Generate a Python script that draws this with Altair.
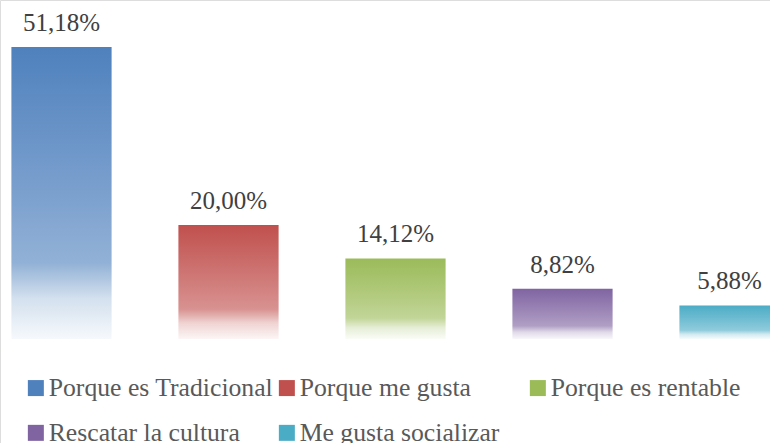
import altair as alt
import pandas as pd

categories = ["Porque es Tradicional", "Porque me gusta", "Porque es rentable",
              "Rescatar la cultura", "Me gusta socializar"]
values = [51.18, 20.00, 14.12, 8.82, 5.88]
labels = ["51,18%", "20,00%", "14,12%", "8,82%", "5,88%"]
colors = ["#4F81BD", "#C0504D", "#9BBB59", "#8064A2", "#4BACC6"]

df = pd.DataFrame({"cat": categories, "val": values, "label": labels})


def tint(c, t):
    r, g, b = int(c[1:3], 16), int(c[3:5], 16), int(c[5:7], 16)
    r = round(r + (255 - r) * t)
    g = round(g + (255 - g) * t)
    b = round(b + (255 - b) * t)
    return "#{:02x}{:02x}{:02x}".format(r, g, b)


def grad(c):
    return alt.Gradient(
        gradient="linear", x1=0, x2=0, y1=0, y2=1,
        stops=[
            alt.GradientStop(color=c, offset=0),
            alt.GradientStop(color=tint(c, 0.25), offset=0.5),
            alt.GradientStop(color=tint(c, 0.38), offset=0.74),
            alt.GradientStop(color=tint(c, 0.75), offset=0.86),
            alt.GradientStop(color=tint(c, 0.95), offset=1),
        ],
    )


FONT = "Liberation Serif"

xenc = alt.X("cat:N", sort=categories,
             scale=alt.Scale(range=[-22, 813], paddingInner=0.4, paddingOuter=0.2),
             axis=None)
yenc = alt.Y("val:Q", scale=alt.Scale(domain=[0, 59.42], range=[339, 0]), axis=None)

base = alt.Chart(df)

legend_layer = base.mark_bar(opacity=0).encode(
    x=xenc, y=yenc,
    color=alt.Color("cat:N", sort=categories,
                    scale=alt.Scale(domain=categories, range=colors),
                    legend=alt.Legend(
                        title=None, orient="none", legendX=23, legendY=375,
                        direction="horizontal", padding=0,
                        columns=3, gridAlign="all", symbolType="square",
                        symbolSize=256, symbolOpacity=1, symbolStrokeWidth=0,
                        labelFont=FONT, labelFontSize=25.7,
                        labelColor="#595959", labelOffset=0, labelOpacity=1,
                        columnPadding=0, rowPadding=18, labelLimit=400,
                    )),
)

bar_layers = [
    base.transform_filter(alt.datum.cat == cat).mark_bar(color=grad(col)).encode(x=xenc, y=yenc)
    for cat, col in zip(categories, colors)
]

text_layer = base.mark_text(
    baseline="alphabetic", dy=-16, font=FONT, fontSize=25, color="#404040"
).encode(x=xenc, y=yenc, text="label:N")

chart = alt.layer(legend_layer, *bar_layers, text_layer).properties(
    width=770, height=443, autosize=alt.AutoSizeParams(type="none"), padding=0
).configure_view(stroke=None).configure(font=FONT)

chart.save("out.html", embed_options={"renderer": "svg", "actions": False})
